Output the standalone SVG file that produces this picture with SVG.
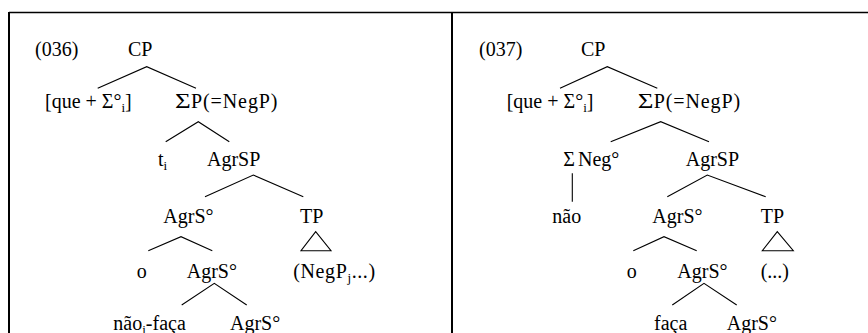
<svg xmlns="http://www.w3.org/2000/svg" width="868" height="333" viewBox="0 0 868 333">
<style>
text{font-family:'Liberation Serif','DejaVu Serif',serif;font-size:20px;fill:#000}
.sub{font-size:13px}
.sig{letter-spacing:0.9px}
.e{stroke:#000;stroke-width:1.1;fill:none}
.frame{stroke:#000;fill:none}
</style>
<rect width="868" height="333" fill="#fff"/>
<g id="frame">
<line class="frame" x1="9" y1="12.5" x2="868" y2="12.5" stroke-width="1.5"/>
<line class="frame" x1="9" y1="12" x2="9" y2="333" stroke-width="2"/>
<line class="frame" x1="452" y1="12" x2="452" y2="333" stroke-width="2"/>
</g>
<g id="connectors">
<polyline class="e" points="97.7,88.3 146.7,66.7 196,88.3"/>
<polyline class="e" points="165.7,141.7 198.3,121.7 229.3,141.7"/>
<polyline class="e" points="205,196.7 253.3,175 303.3,196.7"/>
<polyline class="e" points="148.3,250.7 181,236.7 212.3,250.7"/>
<polygon class="e" points="315.7,231.7 301,250.7 331,250.7"/>
<polyline class="e" points="181.7,305 214.3,283.3 246.7,305"/>
<polyline class="e" points="560,88.3 607.3,66.7 657.3,88.3"/>
<polyline class="e" points="610.7,141.7 660.7,121.7 709,141.7"/>
<line class="e" x1="572.3" y1="173.3" x2="572.3" y2="201.7"/>
<polyline class="e" points="667.3,196.7 707.3,175 765.7,196.7"/>
<polyline class="e" points="633.3,250.7 664,236.7 696.7,250.7"/>
<polygon class="e" points="777.3,231.7 762.3,250.7 793.3,250.7"/>
<polyline class="e" points="672.3,305 704,283.3 736.7,305"/>
</g>
<g id="tree036">
<g id="n036-label"><text x="35" y="56">(036)</text></g>
<g id="n036-CP"><text x="128" y="56">CP</text></g>
<g id="n036-que"><text x="45" y="108">[que + Σ°<tspan class="sub" dy="4">i</tspan><tspan dy="-4">]</tspan></text></g>
<g id="n036-SP"><text transform="translate(175,108) scale(1.35,1)">Σ</text><text class="sig" x="191" y="108">P(=NegP)</text></g>
<g id="n036-t"><text x="158" y="166">t<tspan class="sub" dy="4">i</tspan></text></g>
<g id="n036-AgrSP"><text x="207" y="166">AgrSP</text></g>
<g id="n036-AgrS1"><text x="163.3" y="223">AgrS°</text></g>
<g id="n036-TP"><text x="300" y="223">TP</text></g>
<g id="n036-o"><text x="136.7" y="278">o</text></g>
<g id="n036-AgrS2"><text x="186.7" y="278">AgrS°</text></g>
<g id="n036-NegP"><text x="293.3" y="278" letter-spacing="0.6">(NegP<tspan class="sub" dy="4">j</tspan><tspan dy="-4">...)</tspan></text></g>
<g id="n036-nao"><text x="113.3" y="330">não<tspan class="sub" dy="4">i</tspan><tspan dy="-4">-faça</tspan></text></g>
<g id="n036-AgrS3"><text x="230" y="330">AgrS°</text></g>
</g>
<g id="tree037">
<g id="n037-label"><text x="479" y="56">(037)</text></g>
<g id="n037-CP"><text x="581" y="56">CP</text></g>
<g id="n037-que"><text x="506.7" y="108">[que + Σ°<tspan class="sub" dy="4">i</tspan><tspan dy="-4">]</tspan></text></g>
<g id="n037-SP"><text transform="translate(637.7,108) scale(1.35,1)">Σ</text><text class="sig" x="653.7" y="108">P(=NegP)</text></g>
<g id="n037-Neg"><text x="563.3" y="166" word-spacing="-2">Σ Neg°</text></g>
<g id="n037-AgrSP"><text x="685.7" y="166">AgrSP</text></g>
<g id="n037-nao"><text x="552.3" y="223">não</text></g>
<g id="n037-AgrS1"><text x="652.3" y="223">AgrS°</text></g>
<g id="n037-TP"><text x="760.7" y="223">TP</text></g>
<g id="n037-o"><text x="626.7" y="278">o</text></g>
<g id="n037-AgrS2"><text x="677.3" y="278">AgrS°</text></g>
<g id="n037-dots"><text x="760.7" y="278">(...)</text></g>
<g id="n037-faca"><text x="654" y="330">faça</text></g>
<g id="n037-AgrS3"><text x="726.7" y="330">AgrS°</text></g>
</g>
</svg>
